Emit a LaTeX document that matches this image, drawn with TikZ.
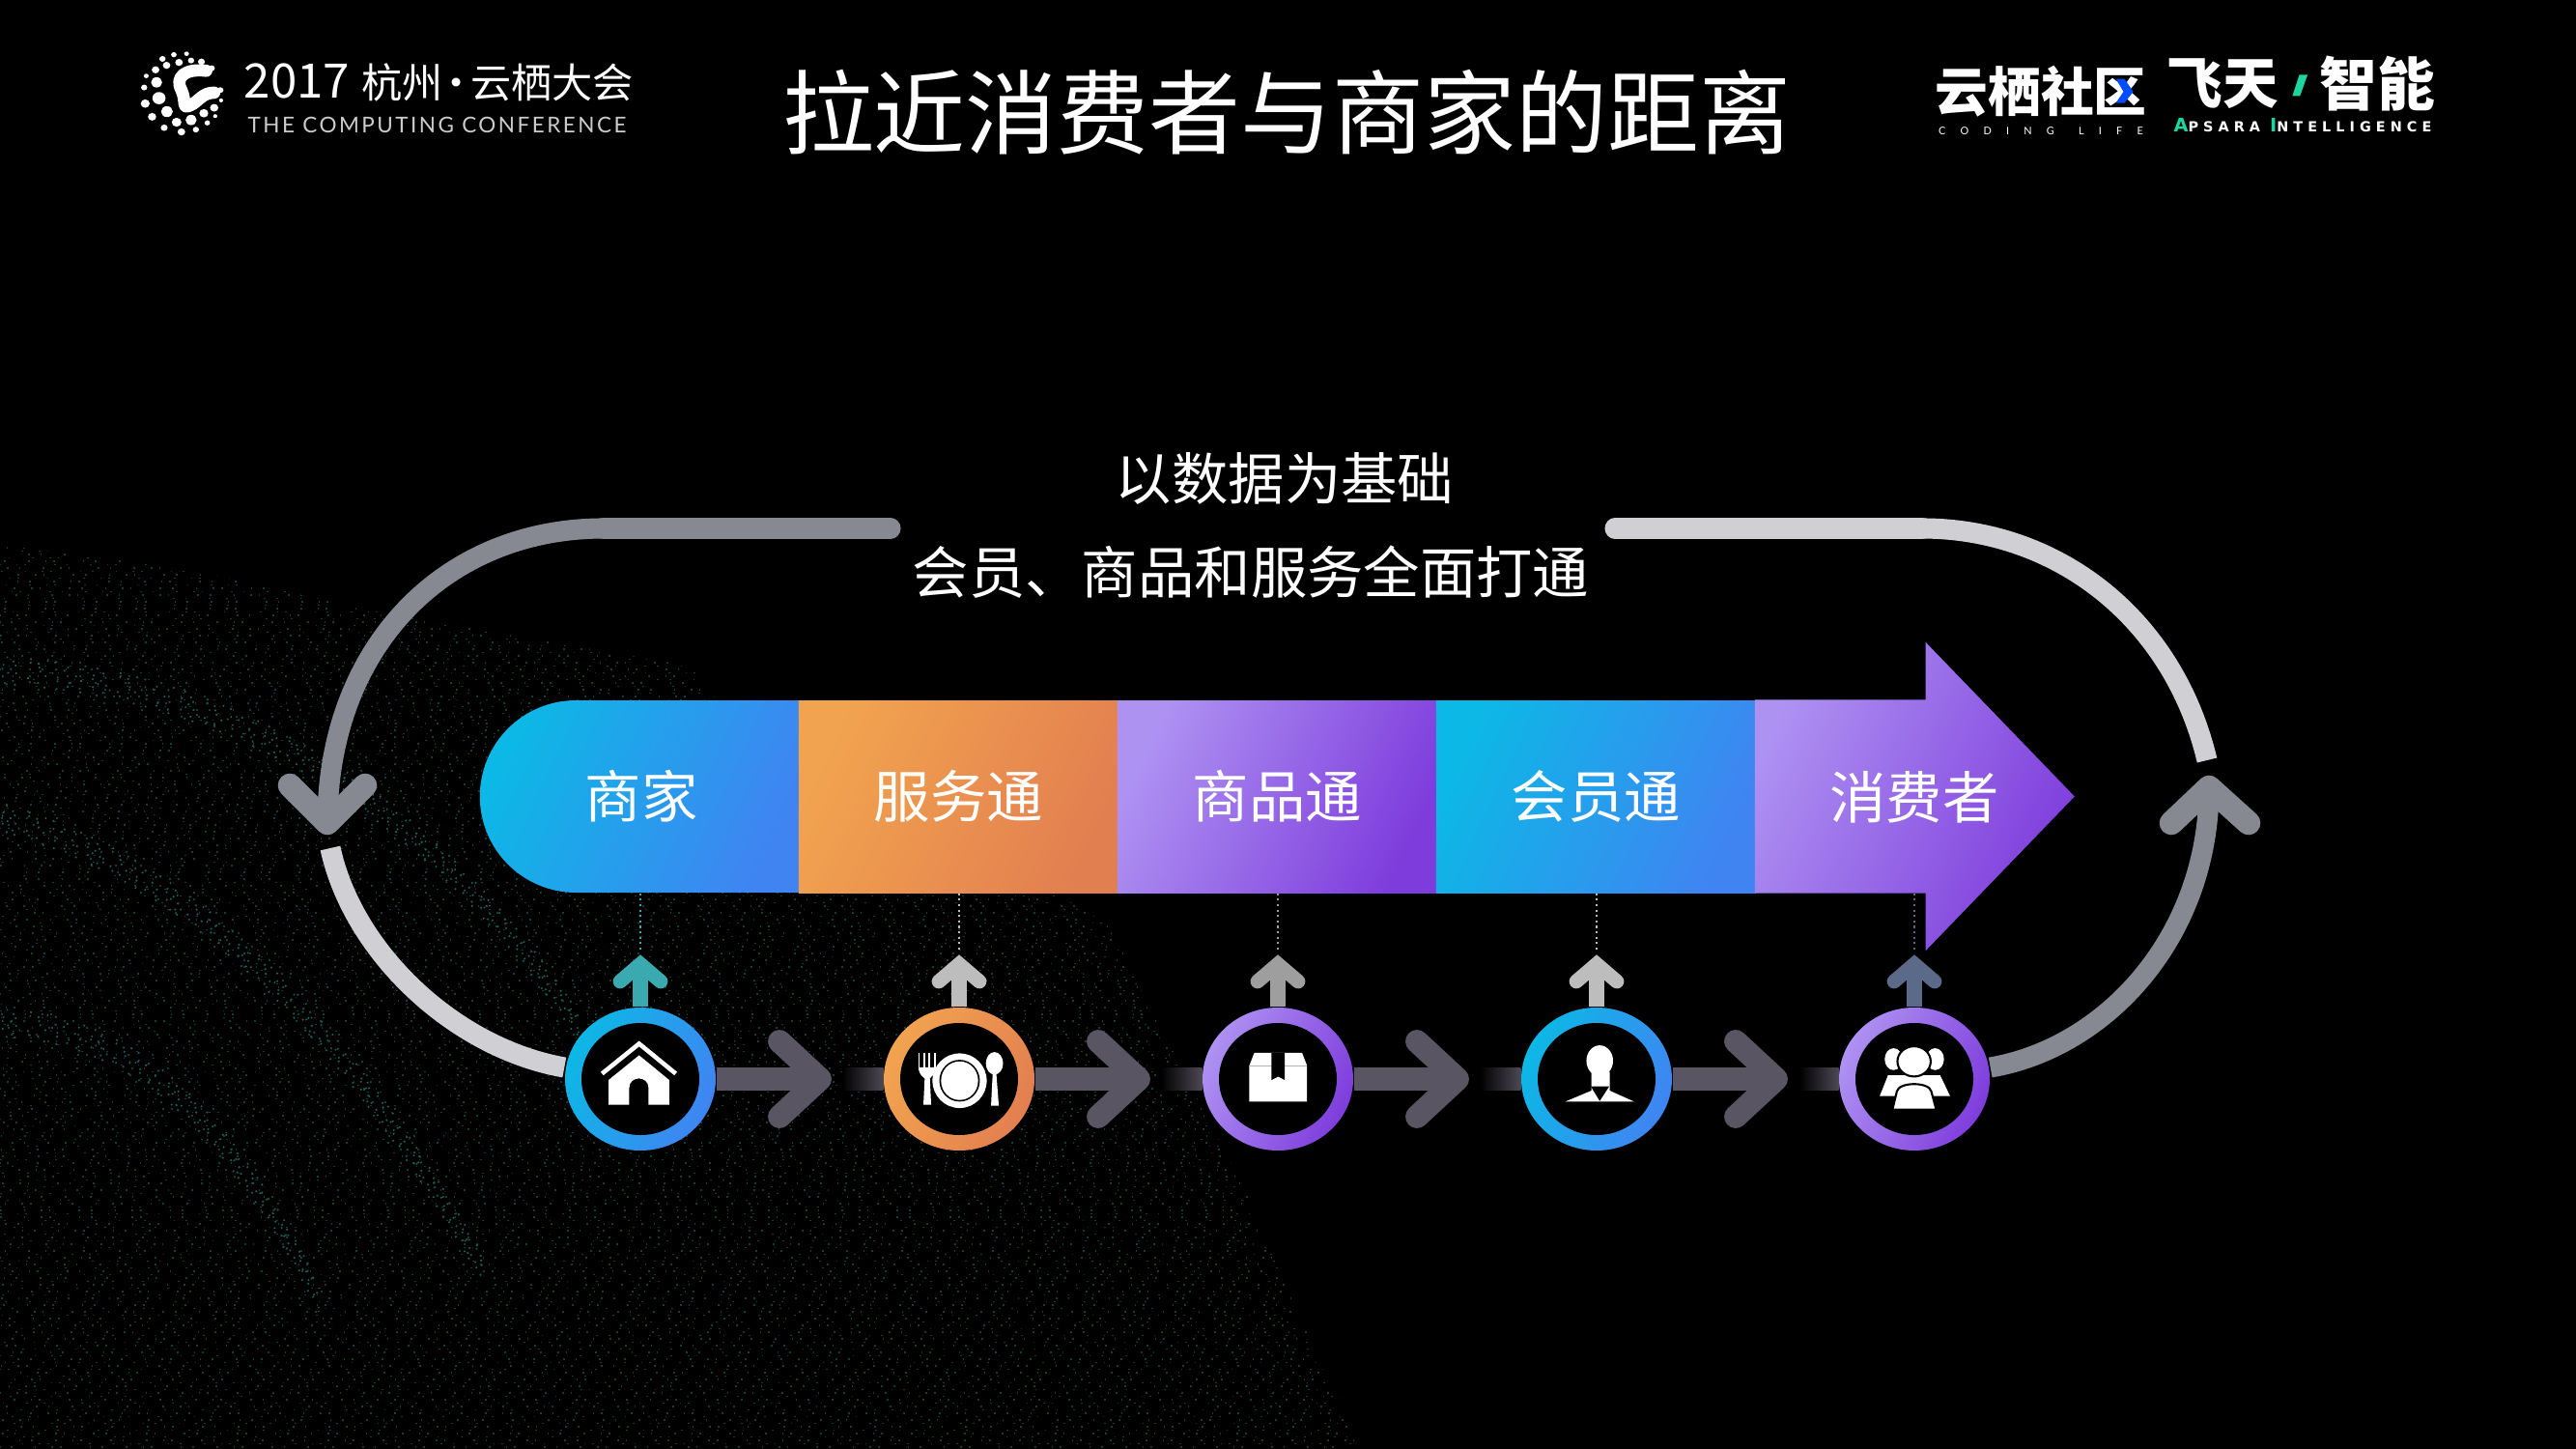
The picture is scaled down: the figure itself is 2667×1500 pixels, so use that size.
\documentclass[tikz,border=0pt]{standalone}
\usepackage{fontspec}
\setmainfont{Noto Sans CJK SC}
\newfontfamily\logofont[LetterSpace=11]{Lato}
\newfontfamily\codefont[LetterSpace=140]{Lato}
\newfontfamily\apsarafont[LetterSpace=35]{DejaVu Sans}
\usepackage{xcolor}
\usepackage{tikz}
\usetikzlibrary{positioning,shapes.misc,shapes.arrows,shapes.geometric}
\definecolor{blueA}{HTML}{0CB8E6}
\definecolor{blueB}{HTML}{4084F2}
\definecolor{orangeA}{HTML}{F2A34F}
\definecolor{orangeB}{HTML}{E27F50}
\definecolor{purpleA}{HTML}{AE92F2}
\definecolor{purpleB}{HTML}{7E3CDC}
\definecolor{loopdark}{HTML}{868991}
\definecolor{looplight}{HTML}{D0D0D4}
\definecolor{chevron}{HTML}{5A5562}
\definecolor{tealup}{HTML}{3AA9B0}
\definecolor{grayup}{HTML}{BDBDBD}
\definecolor{midup}{HTML}{9E9E9E}
\definecolor{slateup}{HTML}{5A6A88}
\definecolor{speck}{HTML}{123E39}
\definecolor{ridge}{HTML}{1C5F57}
\definecolor{greenlogo}{HTML}{1BD6A2}
\begin{document}
\begin{tikzpicture}[
  x=0.1mm, y=-0.1mm,
  bluefill/.style={left color=blueA, right color=blueB, shading angle=65},
  orangefill/.style={left color=orangeA, right color=orangeB, shading angle=65},
  purplefill/.style={left color=purpleA, right color=purpleB, shading angle=65},
  seg/.style={minimum width=33.1mm, minimum height=19.9mm, inner sep=0pt, text=white, font=\fontsize{16.6}{20}\selectfont},
  ring/.style={ellipse, minimum width=15.6mm, minimum height=14.8mm, inner sep=0pt},
  hole/.style={ellipse, fill=black, minimum width=12.2mm, minimum height=11.6mm, inner sep=0pt},
  loopline/.style={line width=6pt},
  loophead/.style={line width=7pt, line cap=round, line join=round},
  flow/.style={line width=6.6pt, chevron},
  flowhead/.style={line width=6.8pt, line cap=round, line join=round, chevron},
  up/.style={line width=4.4pt},
  uphead/.style={line width=4.2pt, line cap=round, line join=miter},
  tie/.style={densely dotted, line width=0.6pt},
  caption/.style={text=white, font=\fontsize{16.6}{20}\selectfont},
  specks/.style={line width=0.5pt, dash pattern=on 0.17mm off 1.1mm on 0.15mm off 2.3mm on 0.17mm off 1.6mm on 0.15mm off 0.7mm on 0.17mm off 2.9mm},
]
\fill[black] (0,0) rectangle (2667,1500);
\useasboundingbox (0,0) rectangle (2667,1500);

% speckled backdrop
\begin{scope}
\clip (0,564) -- (200,590) -- (383,632) -- (717,690) -- (737,720) -- (1148,957) -- (1292,1239) -- (1387,1457) -- (1406,1500) -- (0,1500) -- cycle;
\pgfmathsetseed{2017}
\foreach \i in {0,...,270} {
  \pgfmathsetmacro\ph{rnd*20}
  \draw[speck, specks, dash phase=\ph mm] (0,560+\i*3.5) -- (1420,560+\i*3.5);
}
\foreach \k in {0,...,7} {
  \pgfmathsetmacro\ph{rnd*20}
  \draw[ridge, specks, dash phase=\ph mm] (0,1045+\k*4) .. controls (130,1050+\k*4) and (230,1130+\k*4) .. (330,1330+\k*4);
  \draw[ridge, specks, dash phase=\ph mm] (0,832+\k*4) .. controls (180,880+\k*4) and (340,1020+\k*4) .. (500,1300+\k*4);
  \draw[ridge, specks, dash phase=\ph mm] (0,680+\k*4) .. controls (200,690+\k*4) and (420,780+\k*4) .. (600,1050+\k*4);
}
\end{scope}

% header
\node[text=white, font=\fontsize{27}{32}\selectfont] (title) at (1332,116) {拉近消费者与商家的距离};
\node[text=white, anchor=west, inner sep=0pt, font=\fontsize{12}{13}\selectfont] (confname) at (252,85) {{\fontsize{14}{13}\selectfont 2017}\hspace{3.5pt}杭州\hspace{-1.9pt}·\hspace{-1.9pt}云栖大会};
\node[text=white!80!black, anchor=west, inner sep=0pt, font=\logofont\fontsize{6.4}{8}\selectfont] (confen) at (256,129) {THE COMPUTING CONFERENCE};
\begin{scope}[shift={(120,30)}, x=0.0357mm, y=-0.0333mm]
\foreach \x/\y/\r in {168/80/8,205/77/7,135/93/9,183/104/11,218/98/9,248/102/10,278/122/9,147/113/11,115/127/11,88/146/7,118/166/16,82/182/9,303/190/9,305/222/6,125/215/19,85/232/13,285/245/12,148/257/17,255/262/13,105/273/12,288/271/6,218/283/16,176/290/14,140/307/10,265/292/8,232/313/9,190/320/11}
  \fill[white] (\x,\y) circle[radius=\r];
\draw[white, line width=3.6pt, line cap=round, line join=round] (262,130) .. controls (200,122) and (170,150) .. (190,190) .. controls (205,225) and (190,250) .. (215,238) .. controls (240,226) and (250,198) .. (285,198);
\end{scope}

\node[text=white, inner sep=0pt, font=\bfseries\fontsize{15.6}{18}\selectfont] (yunqi) at (2113,95) {云栖社区};
\node[text=white, inner sep=0pt, font=\codefont\fontsize{3.1}{4}\selectfont] (coding) at (2113,136) {CODING\hspace{2pt} LIFE};
\node[text=white, inner sep=0pt, font=\bfseries\fontsize{16.4}{18}\selectfont] (feitian) at (2301,87) {飞天};
\node[text=white, inner sep=0pt, font=\bfseries\fontsize{17}{18}\selectfont] (zhineng) at (2461,87) {智能};
\node[text=white, inner sep=0pt, font=\apsarafont\bfseries\fontsize{4.1}{5}\selectfont] (apsara) at (2384,130) {\textcolor{greenlogo}{\fontsize{5.5}{5}\selectfont A}PSARA \textcolor{greenlogo}{\fontsize{5.5}{5}\selectfont I}NTELLIGENCE};
\begin{scope}[shift={(1980,40)}, x=0.0357mm, y=-0.0333mm]
\fill[blue!70!cyan] (590,125) -- (615,125) -- (640,165) -- (615,200) -- (590,200) -- (612,165) -- cycle;
\fill[greenlogo] (1122,112) -- (1146,112) -- (1124,178) -- (1102,178) -- cycle;
\end{scope}

% caption
\node[caption] (line1) at (1330,495) {以数据为基础};
\node[caption] (line2) at (1295,592) {会员、商品和服务全面打通};

% ribbon
\node[seg, bluefill, rounded rectangle, rounded rectangle right arc=none, anchor=east] (merchant) at (828.5,824.5) {商家};
\node[seg, orangefill, right=-0.24mm of merchant] (service) {服务通};
\node[seg, purplefill, right=-0.24mm of service] (goods) {商品通};
\node[seg, bluefill, right=-0.24mm of goods] (member) {会员通};
\node[purplefill, single arrow, minimum height=33.1mm, inner xsep=0pt, inner ysep=9.95mm, single arrow head extend=5.95mm, single arrow tip angle=92, single arrow head indent=0pt, right=-0.24mm of member] (consumerbar) {};
\node[caption] (consumer) at (1982,825) {消费者};

% rings
\coordinate (fadea) at (872,1117);
\coordinate (fadeb) at (1202,1117);
\coordinate (fadec) at (1532,1117);
\coordinate (faded) at (1863,1117);
\node[ring, bluefill] (ringa) at (663,1117) {};
\node[ring, orangefill] (ringb) at (993,1117) {};
\node[ring, purplefill] (ringc) at (1323,1117) {};
\node[ring, bluefill] (ringd) at (1653,1117) {};
\node[ring, purplefill] (ringe) at (1982,1117) {};
\foreach \r in {a,b,c,d,e} \node[hole] (hole\r) at (ring\r) {};

% up arrows
\foreach \r/\c in {a/tealup,b/grayup,c/midup,d/grayup,e/slateup} {
  \coordinate (tip\r) at ([yshift=11.9mm]ring\r.center);
  \coordinate (top\r) at ([yshift=13.2mm]ring\r.center);
  \draw[up, \c] (ring\r.north) -- (tip\r);
  \draw[uphead, \c] ([xshift=-2.1mm,yshift=-1.8mm]tip\r) -- (tip\r) -- ([xshift=2.1mm,yshift=-1.8mm]tip\r);
  \draw[tie, \c] (ring\r |- member.south) -- (top\r);
}

% flow arrows
\foreach \r/\s in {a/b,b/c,c/d,d/e} {
  \coordinate (apex\r) at ([xshift=18.6mm]ring\r.center);
  \shade[left color=black, right color=chevron!85!black] ([yshift=1.15mm]fade\r) rectangle ([yshift=-1.15mm]ring\s.west);
  \draw[flow] (ring\r.east) -- (apex\r);
  \draw[flowhead] ([xshift=-4.2mm,yshift=3.9mm]apex\r) -- (apex\r) -- ([xshift=-4.2mm,yshift=-3.9mm]apex\r);
}

% loop
\coordinate (headl) at (339,852);
\coordinate (headr) at (2287,815);
\draw[loopline, looplight] (342,878) .. controls (365,985) and (470,1085) .. ([yshift=1.2mm]ringa.west);
\draw[loopline, looplight, line cap=round] (1672,547) -- (1990,547);
\draw[loopline, looplight] (1990,547) .. controls (2130,547) and (2250,640) .. (2285,787);
\draw[loopline, loopdark, line cap=round] (922,547) -- (625,547);
\draw[loopline, loopdark] (625,547) .. controls (460,547) and (339,670) .. (headl);
\draw[loopline, loopdark] ([yshift=1.2mm]ringe.east) .. controls (2180,1085) and (2287,970) .. (headr);
\draw[loophead, loopdark] (300,813) -- (headl) -- (378,813);
\draw[loophead, loopdark] (2248,852) -- (headr) -- (2328,852);

% house
\begin{scope}[shift={(560,900)}, x=0.0446mm, y=-0.0333mm]
\fill[white] (157,732) -- (157,655) -- (228,578) -- (298,655) -- (298,732) -- (250,732) -- (250,680) .. controls (250,640) and (205,640) .. (205,680) -- (205,732) -- cycle;
\draw[white, line width=1.3pt] (142,635) -- (228,542) -- (313,635);
\end{scope}
% plate
\begin{scope}[shift={(560,900)}, x=0.0446mm, y=-0.0333mm]
\fill[white] (972,657) circle[x radius=63, y radius=85];
\fill[black] (972,657) circle[x radius=47, y radius=65];
\fill[white] (972,657) circle[x radius=43, y radius=60];
\foreach \x in {878,890,902,914} \draw[white, line width=0.5pt] (\x,572) -- (\x,625);
\fill[white] (877,615) -- (915,615) .. controls (915,640) and (905,645) .. (903,650) -- (906,732) -- (888,732) -- (891,650) .. controls (888,645) and (877,640) .. (877,615) -- cycle;
\fill[white] (1053,603) circle[x radius=20, y radius=35];
\fill[white] (1049,630) -- (1057,630) -- (1063,735) -- (1045,735) -- cycle;
\end{scope}
% box
\begin{scope}[shift={(1220,900)}, x=0.0574mm, y=-0.0333mm]
\fill[white] (128,610) -- (137,570) -- (223,570) -- (232,610) -- (232,722) -- (128,722) -- cycle;
\draw[black!30, line width=0.2pt] (128,610) -- (232,610);
\fill[black] (168,570) -- (192,570) -- (192,655) -- (180,644) -- (168,655) -- cycle;
\end{scope}
% person
\begin{scope}[shift={(1220,900)}, x=0.0574mm, y=-0.0333mm]
\fill[white] (760,595) circle[x radius=24, y radius=48];
\fill[white] (698,722) -- (745,688) -- (745,630) -- (778,630) -- (778,688) -- (822,722) -- cycle;
\fill[black] (744,675) -- (777,675) -- (760,720) -- cycle;
\end{scope}
% people
\begin{scope}[shift={(1220,900)}, x=0.0574mm, y=-0.0333mm]
\fill[white] (1290,590) circle[x radius=16, y radius=34];
\fill[white] (1365,590) circle[x radius=16, y radius=34];
\fill[white] (1265,705) -- (1280,640) -- (1374,640) -- (1392,705) -- cycle;
\fill[white, draw=black, line width=0.6pt] (1288,747) -- (1296,690) .. controls (1300,660) and (1354,660) .. (1358,690) -- (1367,747) -- cycle;
\fill[white, draw=black, line width=0.6pt] (1327,597) circle[x radius=30, y radius=47];
\end{scope}
\end{tikzpicture}
\end{document}
